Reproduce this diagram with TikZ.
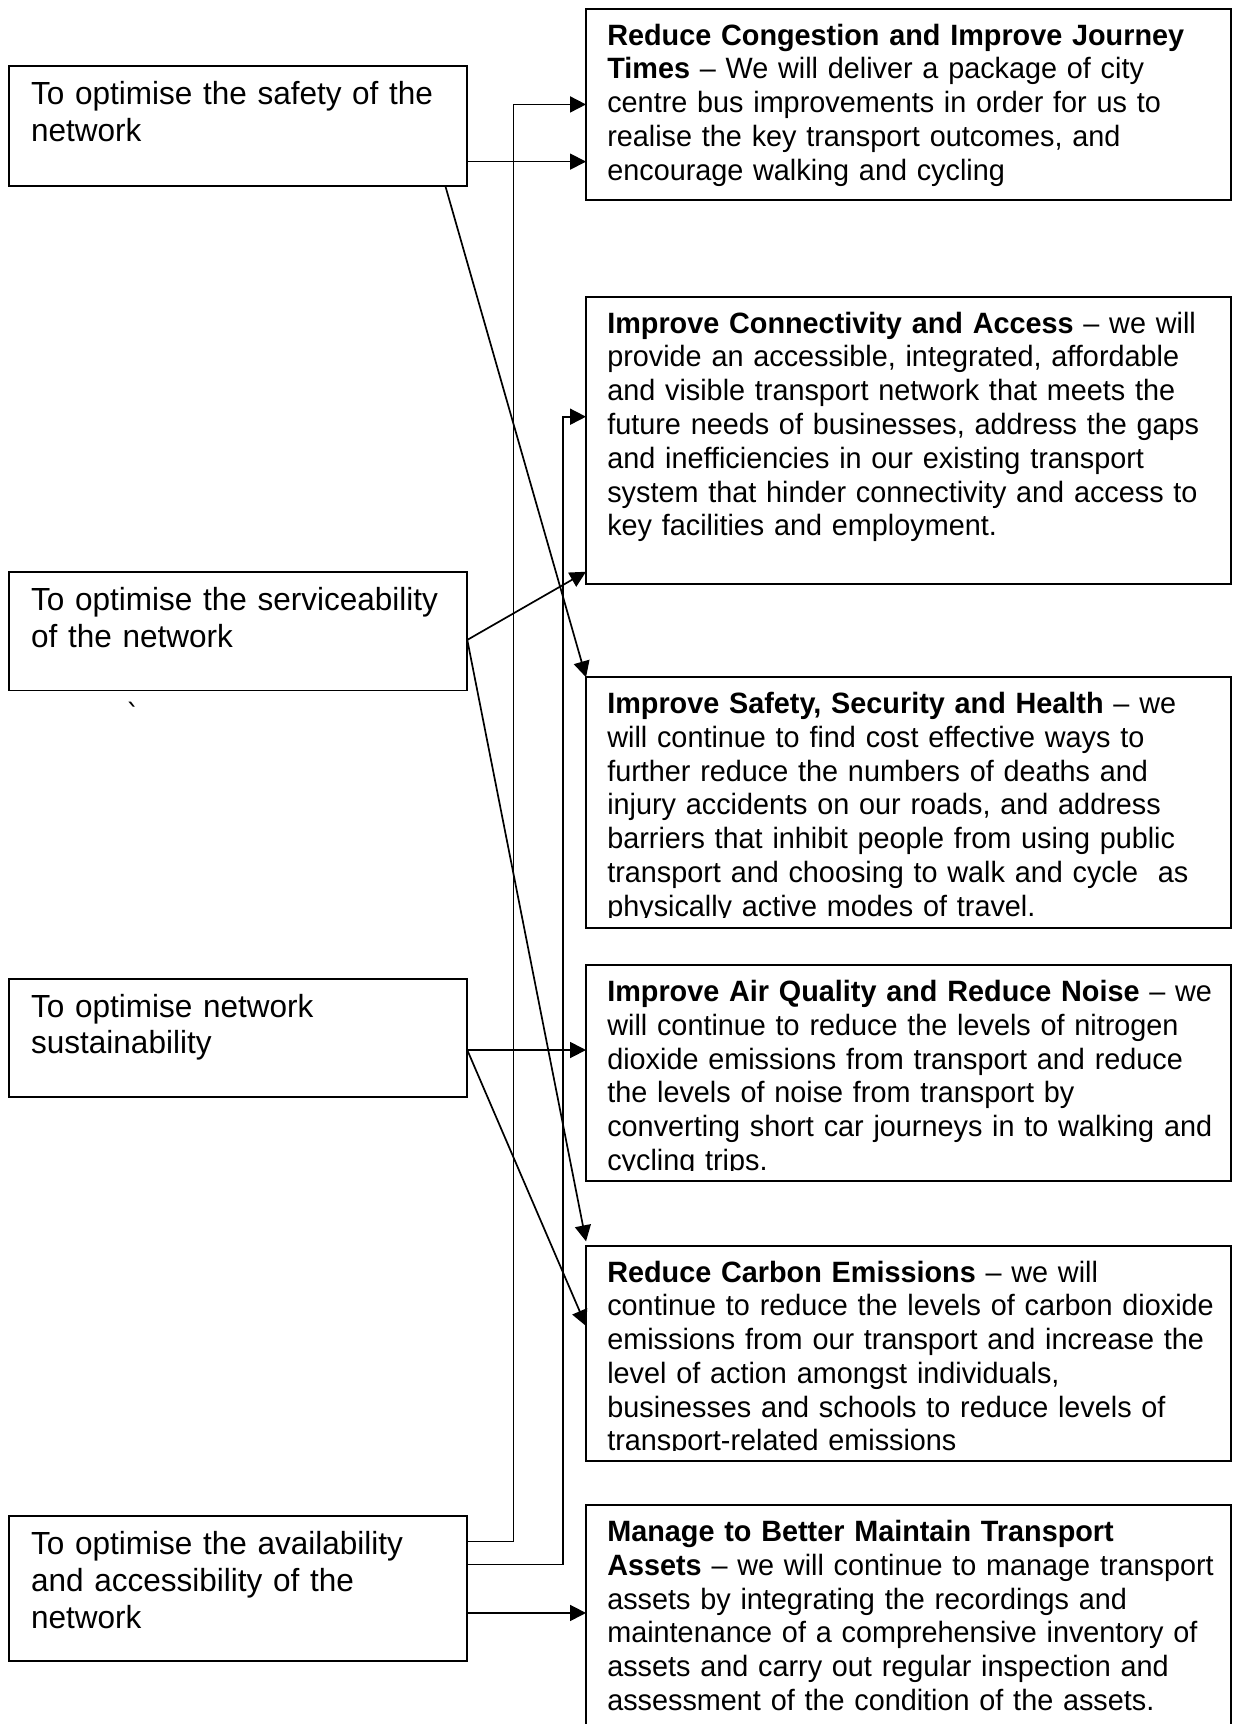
\documentclass[tikz,border=0pt]{standalone}
\usepackage{fontspec}
\setmainfont{Liberation Sans}[FakeStretch=0.98]
\newfontfamily\leftfont{Liberation Sans}[FakeStretch=0.985]
\newfontfamily\markfont{DejaVu Sans}
\usetikzlibrary{arrows.meta,calc}
\begin{document}
\begin{tikzpicture}[x=0.55pt, y=-0.55pt,
  lbox/.style={draw, line width=0.95pt, anchor=north west, inner sep=0pt, outer sep=0pt},
  ltext/.style={anchor=base west, inner sep=0pt, text width=240pt, align=left, font=\leftfont\fontsize{16}{18.4}\selectfont},
  rtext/.style={anchor=base west, inner sep=0pt, text width=330pt, align=left, font=\fontsize{14.7}{16.9}\selectfont},
  conn/.style={line width=0.85pt},
  arr/.style={conn, -{Triangle[length=8pt,width=8pt]}}]
\useasboundingbox (0,0) rectangle (1122,1568);
\clip (0,0) rectangle (1122,1568);

% left boxes
\node[lbox, minimum width=417*0.55pt, minimum height=109*0.55pt] (s1) at (8,60) {};
\node[lbox, minimum width=417*0.55pt, minimum height=108*0.55pt] (s2) at (8,520) {};
\node[lbox, minimum width=417*0.55pt, minimum height=108*0.55pt] (s3) at (8,890) {};
\node[lbox, minimum width=417*0.55pt, minimum height=132*0.55pt] (s4) at (8,1379) {};

\node[ltext] (t1) at ($(s1.north west)+(20,35)$) {To optimise the safety of the\\network};
\node[ltext] (t2) at ($(s2.north west)+(20,35)$) {To optimise the serviceability\\of the network};
\node[ltext] (t3) at ($(s3.north west)+(20,35)$) {To optimise network\\sustainability};
\node[ltext] (t4) at ($(s4.north west)+(20,35)$) {To optimise the availability\\and accessibility of the\\network};

\node[inner sep=0pt, font=\markfont\fontsize{14}{16}\selectfont] (tick) at (121,649) {ˋ};

% right boxes
\node[lbox, minimum width=587*0.55pt, minimum height=174*0.55pt] (r1) at (533,8) {};
\node[lbox, minimum width=587*0.55pt, minimum height=261*0.55pt] (r2) at (533,270) {};
\node[lbox, minimum width=587*0.55pt, minimum height=228*0.55pt] (r3) at (533,616) {};
\node[lbox, minimum width=587*0.55pt, minimum height=196*0.55pt] (r4) at (533,878) {};
\node[lbox, minimum width=587*0.55pt, minimum height=196*0.55pt] (r5) at (533,1133) {};
\node[lbox, minimum width=587*0.55pt, minimum height=215*0.55pt] (r6) at (533,1369) {};

\node[rtext] (u1) at ($(r1.north west)+(19,33)$) {\textbf{Reduce Congestion and Improve Journey}\\\textbf{Times} – We will deliver a package of city\\centre bus improvements in order for us to\\realise the key transport outcomes, and\\encourage walking and cycling};
\node[rtext] (u2) at ($(r2.north west)+(19,33)$) {\textbf{Improve Connectivity and Access} – we will\\provide an accessible, integrated, affordable\\and visible transport network that meets the\\future needs of businesses, address the gaps\\and inefficiencies in our existing transport\\system that hinder connectivity and access to\\key facilities and employment.};
\begin{scope}
\clip (r3.north west) rectangle ($(r3.south east)+(0,-9.5)$);
\node[rtext] (u3) at ($(r3.north west)+(19,33)$) {\textbf{Improve Safety, Security and Health} – we\\will continue to find cost effective ways to\\further reduce the numbers of deaths and\\injury accidents on our roads, and address\\barriers that inhibit people from using public\\transport and choosing to walk and cycle\ \ as\\physically active modes of travel.};
\end{scope}
\begin{scope}
\clip (r4.north west) rectangle ($(r4.south east)+(0,-9.5)$);
\node[rtext] (u4) at ($(r4.north west)+(19,33)$) {\textbf{Improve Air Quality and Reduce Noise} – we\\will continue to reduce the levels of nitrogen\\dioxide emissions from transport and reduce\\the levels of noise from transport by\\converting short car journeys in to walking and\\cycling trips.};
\end{scope}
\begin{scope}
\clip (r5.north west) rectangle ($(r5.south east)+(0,-9.5)$);
\node[rtext] (u5) at ($(r5.north west)+(19,33)$) {\textbf{Reduce Carbon Emissions} – we will\\continue to reduce the levels of carbon dioxide\\emissions from our transport and increase the\\level of action amongst individuals,\\businesses and schools to reduce levels of\\transport-related emissions};
\end{scope}
\node[rtext] (u6) at ($(r6.north west)+(19,33)$) {\textbf{Manage to Better Maintain Transport}\\\textbf{Assets} – we will continue to manage transport\\assets by integrating the recordings and\\maintenance of a comprehensive inventory of\\assets and carry out regular inspection and\\assessment of the condition of the assets.};

% connector points
\coordinate (a1) at ($(s1.north east)+(0,87)$);
\coordinate (a2) at ($(s1.south east)+(-20,0)$);
\coordinate (b1) at ($(s2.north east)+(0,62)$);
\coordinate (c1) at ($(s3.north east)+(0,65)$);
\coordinate (d1) at ($(s4.north east)+(0,23)$);
\coordinate (d2) at ($(s4.north east)+(0,44)$);
\coordinate (d3) at ($(s4.north east)+(0,88)$);
\coordinate (e1) at ($(r1.north west)+(0,87)$);
\coordinate (e2) at ($(r2.north west)+(0,109)$);
\coordinate (e3) at ($(r2.south west)+(0,-11)$);
\coordinate (e5) at ($(r5.north west)+(0,-4)$);
\coordinate (e6) at ($(r5.north west)+(0,73)$);

% connectors
\draw[arr] (a1) -- (a1 -| r1.west);
\draw[arr] (a2) -- (r3.north west);
\draw[arr] (b1) -- (e3);
\draw[arr] (b1) -- (e5);
\draw[arr] (c1) -- (c1 -| r4.west);
\draw[arr] (c1) -- (e6);
\draw[arr] (d1) -- ++(42,0) |- (e1);
\draw[arr] (d2) -- ++(87,0) |- (e2);
\draw[arr] (d3) -- (d3 -| r6.west);
\end{tikzpicture}
\end{document}
